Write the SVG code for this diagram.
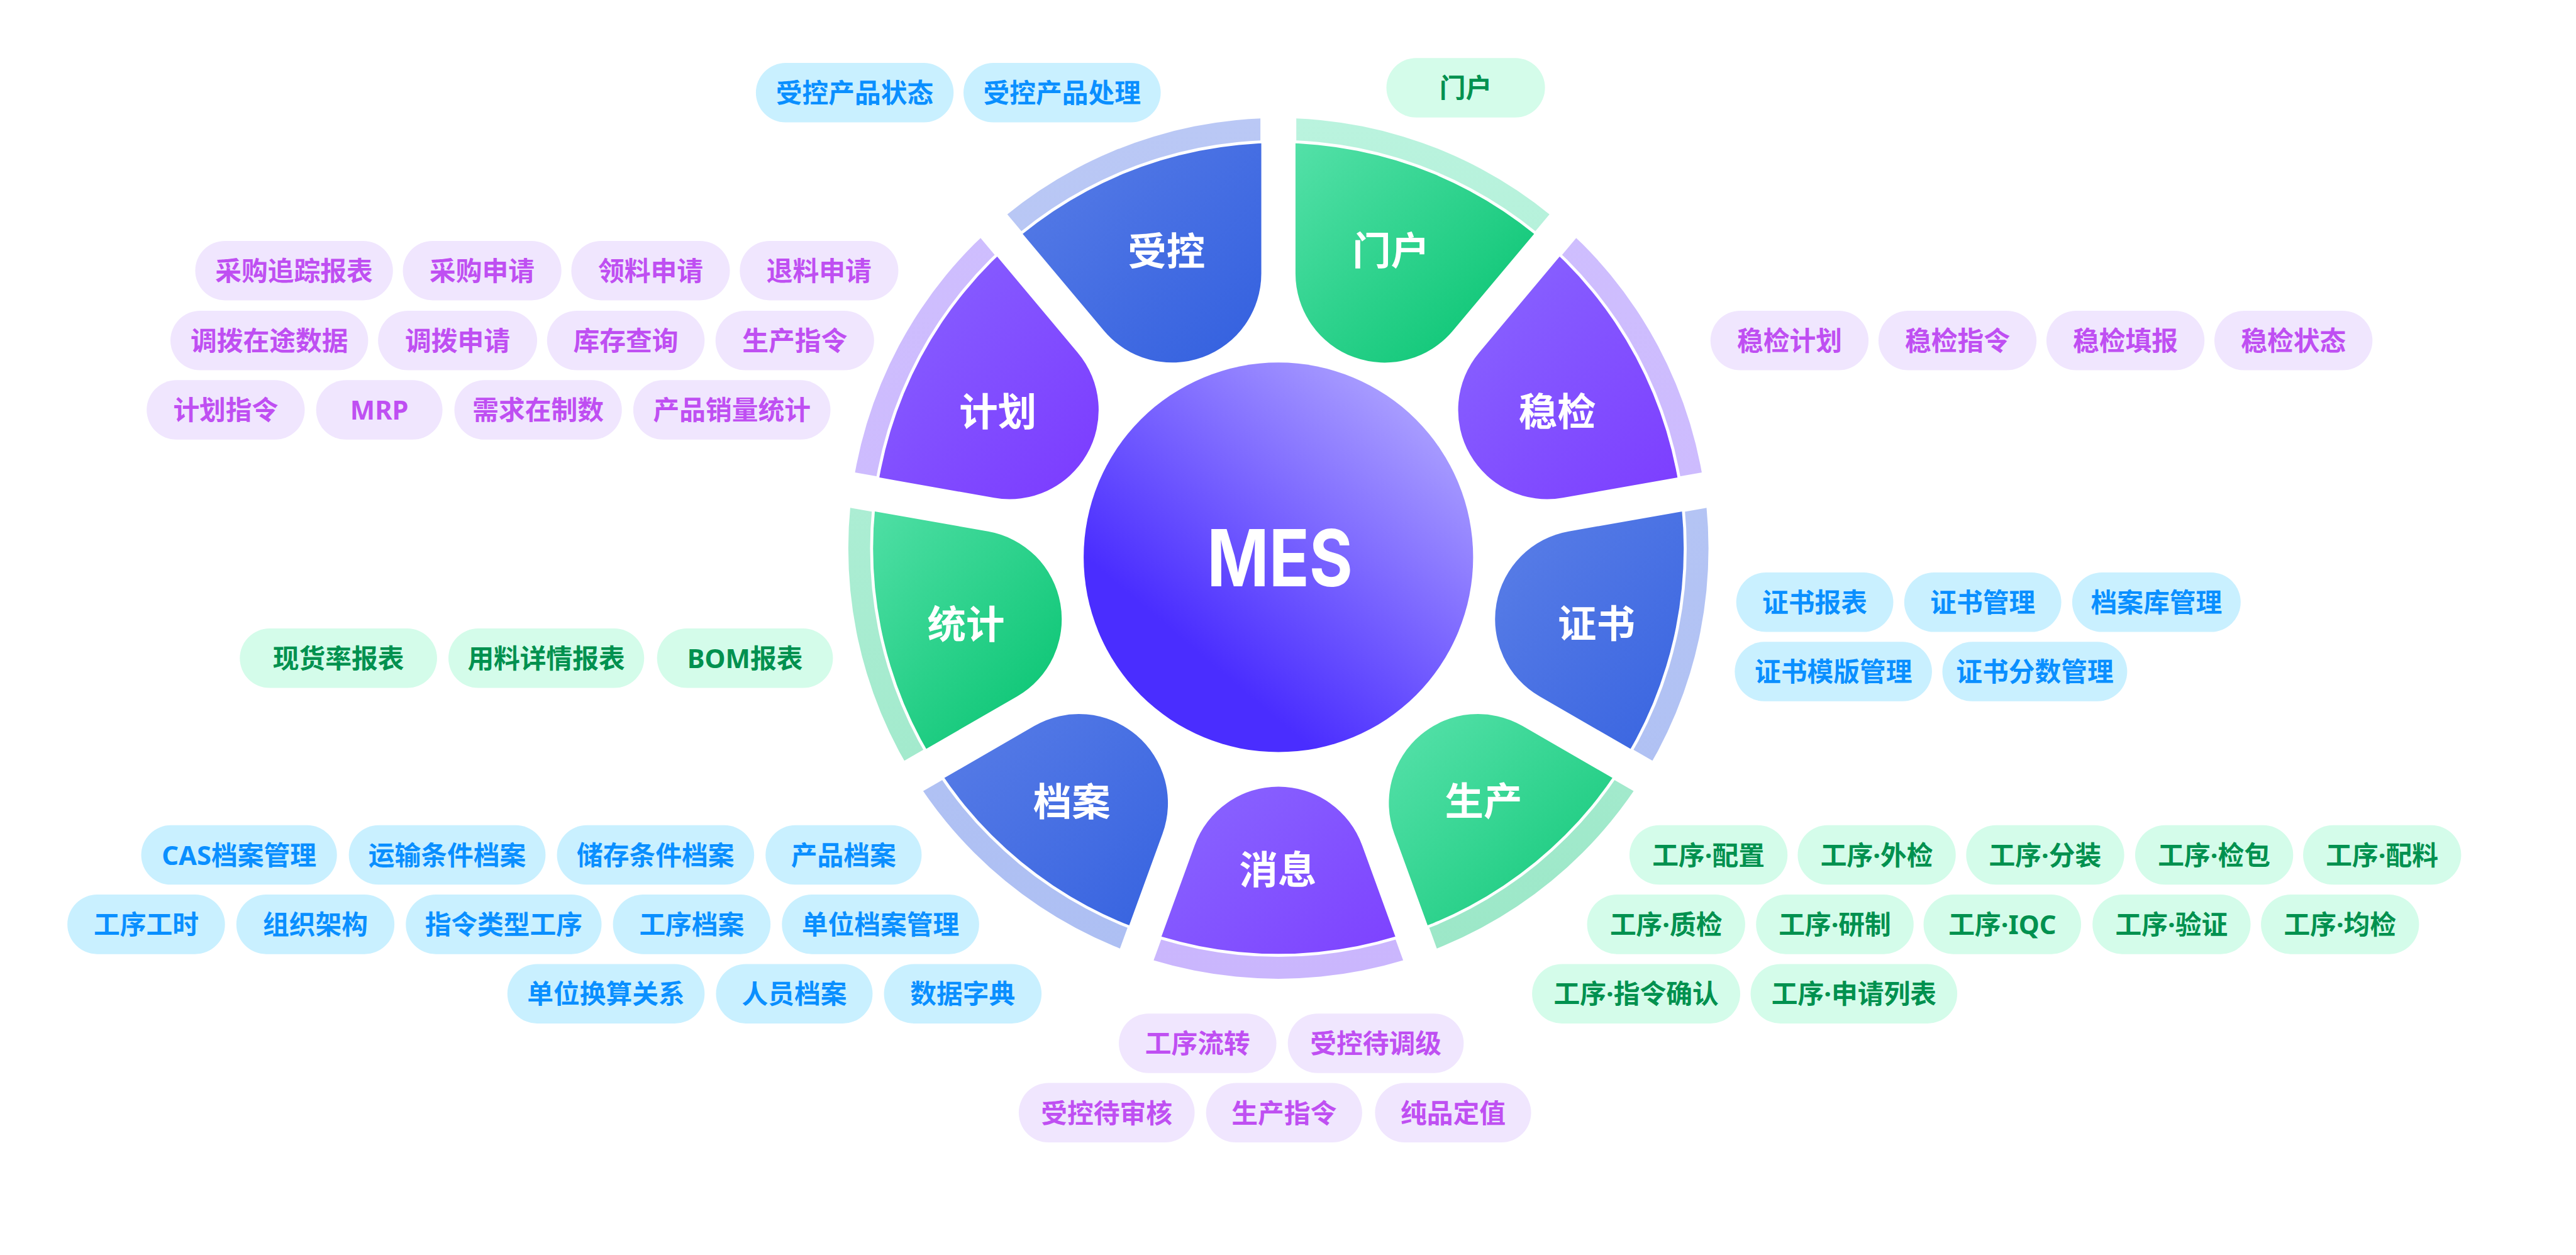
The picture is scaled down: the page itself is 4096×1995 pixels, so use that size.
<svg xmlns="http://www.w3.org/2000/svg" width="4096" height="1995" viewBox="0 0 4096 1995">
<defs>
<style>
.t{font-family:"Noto Sans","Noto Sans CJK SC",sans-serif;font-size:53px;font-weight:700;text-anchor:middle}
.lbl{font-family:"Noto Sans CJK SC",sans-serif;font-size:78px;font-weight:700;fill:#fff;text-anchor:middle}
.pb{fill:#C9F0FF}.tb{fill:#0A8FFF}
.pp{fill:#F0E6FE}.tp{fill:#BF4FF2}
.pg{fill:#D4FCEA}.tg{fill:#00914F}
</style>
<linearGradient id="gBlue" x1="0" y1="0" x2="1" y2="1"><stop offset="0" stop-color="#5B7FE7"/><stop offset="1" stop-color="#3360DF"/></linearGradient>
<linearGradient id="gGreen" x1="0" y1="0" x2="1" y2="1"><stop offset="0" stop-color="#58E2AB"/><stop offset="1" stop-color="#00C16C"/></linearGradient>
<linearGradient id="gPurple" x1="0" y1="0" x2="1" y2="1"><stop offset="0" stop-color="#8A68FF"/><stop offset="1" stop-color="#7B3AFF"/></linearGradient>
<linearGradient id="rBlue" x1="0" y1="0" x2="0" y2="1"><stop offset="0" stop-color="#BAC8F5"/><stop offset="1" stop-color="#ADBFF3"/></linearGradient>
<linearGradient id="rGreen" x1="0" y1="0" x2="0" y2="1"><stop offset="0" stop-color="#BAF3DE"/><stop offset="1" stop-color="#9BE7C7"/></linearGradient>
<linearGradient id="rPurple" x1="0" y1="0" x2="0" y2="1"><stop offset="0" stop-color="#CFBFFE"/><stop offset="1" stop-color="#CAB6FD"/></linearGradient>
<linearGradient id="gMes" x1="0.85" y1="0.1" x2="0.3" y2="0.75"><stop offset="0" stop-color="#ABA0FF"/><stop offset="0.5" stop-color="#7B66FF"/><stop offset="1" stop-color="#4A2DFF"/></linearGradient>
<clipPath id="cOuter"><circle cx="2580" cy="1106.5" r="818"/></clipPath>
<path id="ann" fill-rule="evenodd" d="M1712,1106.5a868,868 0 1,0 1736,0a868,868 0 1,0 -1736,0ZM1756,1106.5a824,824 0 1,0 1648,0a824,824 0 1,0 -1648,0Z"/>
<clipPath id="w1"><polygon points="2544,1041.6 1900.5,274.7 2544,40.5"/></clipPath>
<clipPath id="w2"><polygon points="2616,1041.6 2616,40.5 3259.5,274.7"/></clipPath>
<clipPath id="w3"><polygon points="2671.2,1087.9 3314.7,321 3657,914"/></clipPath>
<clipPath id="w4"><polygon points="2683.7,1158.8 3669.5,984.9 3550.6,1659.3"/></clipPath>
<clipPath id="w5"><polygon points="2647.7,1221.1 3514.6,1721.7 2990.1,2161.9"/></clipPath>
<clipPath id="w6"><polygon points="2580,1245.8 2922.4,2186.5 2237.6,2186.5"/></clipPath>
<clipPath id="w7"><polygon points="2512.3,1221.1 2170,2161.9 1645.4,1721.7"/></clipPath>
<clipPath id="w8"><polygon points="2476.3,1158.8 1609.4,1659.3 1490.5,984.9"/></clipPath>
<clipPath id="w9"><polygon points="2488.8,1087.9 1503,914 1845.4,321"/></clipPath>
</defs>
<rect width="4096" height="1995" fill="#fff"/>
<g transform="scale(0.78788)">
<g id="connectors"/>
<g id="petal-shoukong">
<use href="#ann" clip-path="url(#w1)" fill="url(#rBlue)"/>
<path clip-path="url(#cOuter)" fill="url(#gBlue)" d="M2027.9,428.9L2228,667.3A179.8,179.8 0 0 0 2545.5,551.7L2545.5,240.5A900.7,900.7 0 0 0 2027.9,428.9Z"/>
<text class="lbl" x="2354" y="535">受控</text>
</g>
<g id="petal-menhu">
<use href="#ann" clip-path="url(#w2)" fill="url(#rGreen)"/>
<path clip-path="url(#cOuter)" fill="url(#gGreen)" d="M2614.5,240.5L2614.5,551.7A179.8,179.8 0 0 0 2932.1,667.3L3132.1,428.9A900.7,900.7 0 0 0 2614.5,240.5Z"/>
<text class="lbl" x="2807" y="534">门户</text>
</g>
<g id="petal-wenjian">
<use href="#ann" clip-path="url(#w3)" fill="url(#rPurple)"/>
<path clip-path="url(#cOuter)" fill="url(#gPurple)" d="M3184.9,473.2L2984.9,711.6A179.8,179.8 0 0 0 3153.9,1004.3L3460.3,950.2A900.7,900.7 0 0 0 3184.9,473.2Z"/>
<text class="lbl" x="3143" y="859">稳检</text>
</g>
<g id="petal-zhengshu">
<use href="#ann" clip-path="url(#w4)" fill="url(#rBlue)"/>
<path clip-path="url(#cOuter)" fill="url(#gBlue)" d="M3472.3,1018.2L3165.9,1072.2A179.8,179.8 0 0 0 3107.2,1405L3376.7,1560.6A900.7,900.7 0 0 0 3472.3,1018.2Z"/>
<text class="lbl" x="3222" y="1287">证书</text>
</g>
<g id="petal-shengchan">
<use href="#ann" clip-path="url(#w5)" fill="url(#rGreen)"/>
<path clip-path="url(#cOuter)" fill="url(#gGreen)" d="M3342.2,1620.4L3072.7,1464.8A179.8,179.8 0 0 0 2813.8,1682L2920.2,1974.4A900.7,900.7 0 0 0 3342.2,1620.4Z"/>
<text class="lbl" x="2994" y="1645">生产</text>
</g>
<g id="petal-xiaoxi">
<use href="#ann" clip-path="url(#w6)" fill="url(#rPurple)"/>
<path clip-path="url(#cOuter)" fill="url(#gPurple)" d="M2855.4,1998L2749,1705.6A179.8,179.8 0 0 0 2411,1705.6L2304.6,1998A900.7,900.7 0 0 0 2855.4,1998Z"/>
<text class="lbl" x="2579" y="1783">消息</text>
</g>
<g id="petal-dangan">
<use href="#ann" clip-path="url(#w7)" fill="url(#rBlue)"/>
<path clip-path="url(#cOuter)" fill="url(#gBlue)" d="M2239.8,1974.4L2346.2,1682A179.8,179.8 0 0 0 2087.3,1464.8L1817.8,1620.4A900.7,900.7 0 0 0 2239.8,1974.4Z"/>
<text class="lbl" x="2163" y="1646">档案</text>
</g>
<g id="petal-tongji">
<use href="#ann" clip-path="url(#w8)" fill="url(#rGreen)"/>
<path clip-path="url(#cOuter)" fill="url(#gGreen)" d="M1783.3,1560.6L2052.8,1405A179.8,179.8 0 0 0 1994.2,1072.2L1687.7,1018.2A900.7,900.7 0 0 0 1783.3,1560.6Z"/>
<text class="lbl" x="1949.5" y="1288">统计</text>
</g>
<g id="petal-jihua">
<use href="#ann" clip-path="url(#w9)" fill="url(#rPurple)"/>
<path clip-path="url(#cOuter)" fill="url(#gPurple)" d="M1699.7,950.2L2006.1,1004.3A179.8,179.8 0 0 0 2175.1,711.6L1975.1,473.2A900.7,900.7 0 0 0 1699.7,950.2Z"/>
<text class="lbl" x="2014" y="859">计划</text>
</g>
<g id="center-mes">
<circle cx="2580" cy="1124.5" r="393" fill="url(#gMes)"/>
<text x="2583" y="1183" font-family="Inter,'Noto Sans',sans-serif" font-size="158" font-weight="700" fill="#fff" text-anchor="middle" textLength="294" lengthAdjust="spacingAndGlyphs">MES</text>
</g>
<g id="tags-shoukong">
<g id="tag-skcpzt"><rect class="pb" x="1525.5" y="127" width="399" height="120" rx="60"/><text class="t tb" x="1725" y="207">受控产品状态</text></g>
<g id="tag-skcpcl"><rect class="pb" x="1944.5" y="127" width="398" height="120" rx="60"/><text class="t tb" x="2143.5" y="207">受控产品处理</text></g>
</g>
<g id="tags-menhu">
<g id="tag-menhu"><rect class="pg" x="2798" y="117" width="320" height="120" rx="60"/><text class="t tg" x="2958" y="197">门户</text></g>
</g>
<g id="tags-jihua">
<g id="tag-cgzzbb"><rect class="pp" x="394" y="486" width="399" height="120" rx="60"/><text class="t tp" x="593.5" y="566">采购追踪报表</text></g>
<g id="tag-cgsq"><rect class="pp" x="813" y="486" width="320" height="120" rx="60"/><text class="t tp" x="973" y="566">采购申请</text></g>
<g id="tag-llsq"><rect class="pp" x="1153" y="486" width="320" height="120" rx="60"/><text class="t tp" x="1313" y="566">领料申请</text></g>
<g id="tag-tlsq"><rect class="pp" x="1493" y="486" width="320" height="120" rx="60"/><text class="t tp" x="1653" y="566">退料申请</text></g>
<g id="tag-dbztsj"><rect class="pp" x="344" y="627" width="399" height="120" rx="60"/><text class="t tp" x="543.5" y="707">调拨在途数据</text></g>
<g id="tag-dbsq"><rect class="pp" x="763" y="627" width="321" height="120" rx="60"/><text class="t tp" x="923.5" y="707">调拨申请</text></g>
<g id="tag-kccx"><rect class="pp" x="1104" y="627" width="318" height="120" rx="60"/><text class="t tp" x="1263" y="707">库存查询</text></g>
<g id="tag-sczl1"><rect class="pp" x="1444" y="627" width="320" height="120" rx="60"/><text class="t tp" x="1604" y="707">生产指令</text></g>
<g id="tag-jhzl"><rect class="pp" x="296" y="767" width="319" height="120" rx="60"/><text class="t tp" x="455.5" y="847">计划指令</text></g>
<g id="tag-mrp"><rect class="pp" x="638" y="767" width="255" height="120" rx="60"/><text class="t tp" x="765.5" y="847">MRP</text></g>
<g id="tag-xqzzs"><rect class="pp" x="917" y="767" width="338" height="120" rx="60"/><text class="t tp" x="1086" y="847">需求在制数</text></g>
<g id="tag-cpxltj"><rect class="pp" x="1278" y="767" width="398" height="120" rx="60"/><text class="t tp" x="1477" y="847">产品销量统计</text></g>
</g>
<g id="tags-wenjian">
<g id="tag-wjjh"><rect class="pp" x="3452" y="627" width="319" height="120" rx="60"/><text class="t tp" x="3611.5" y="707">稳检计划</text></g>
<g id="tag-wjzl"><rect class="pp" x="3791" y="627" width="319" height="120" rx="60"/><text class="t tp" x="3950.5" y="707">稳检指令</text></g>
<g id="tag-wjtb"><rect class="pp" x="4130" y="627" width="319" height="120" rx="60"/><text class="t tp" x="4289.5" y="707">稳检填报</text></g>
<g id="tag-wjzt"><rect class="pp" x="4469" y="627" width="319" height="120" rx="60"/><text class="t tp" x="4628.5" y="707">稳检状态</text></g>
</g>
<g id="tags-zhengshu">
<g id="tag-zsbb"><rect class="pb" x="3504" y="1155" width="317" height="120" rx="60"/><text class="t tb" x="3662.5" y="1235">证书报表</text></g>
<g id="tag-zsgl"><rect class="pb" x="3843" y="1155" width="317" height="120" rx="60"/><text class="t tb" x="4001.5" y="1235">证书管理</text></g>
<g id="tag-dakgl"><rect class="pb" x="4182" y="1155" width="340" height="120" rx="60"/><text class="t tb" x="4352" y="1235">档案库管理</text></g>
<g id="tag-zsmbgl"><rect class="pb" x="3501" y="1295" width="398" height="120" rx="60"/><text class="t tb" x="3700" y="1375">证书模版管理</text></g>
<g id="tag-zsfsgl"><rect class="pb" x="3920" y="1295" width="373" height="120" rx="60"/><text class="t tb" x="4106.5" y="1375">证书分数管理</text></g>
</g>
<g id="tags-tongji">
<g id="tag-xhlbb"><rect class="pg" x="484" y="1268" width="398" height="120" rx="60"/><text class="t tg" x="683" y="1348">现货率报表</text></g>
<g id="tag-ylxqbb"><rect class="pg" x="905" y="1268" width="395" height="120" rx="60"/><text class="t tg" x="1102.5" y="1348">用料详情报表</text></g>
<g id="tag-bombb"><rect class="pg" x="1326" y="1268" width="355" height="120" rx="60"/><text class="t tg" x="1503.5" y="1348">BOM报表</text></g>
</g>
<g id="tags-dangan">
<g id="tag-casdagl"><rect class="pb" x="285" y="1665" width="395" height="120" rx="60"/><text class="t tb" x="482.5" y="1745">CAS档案管理</text></g>
<g id="tag-ystjda"><rect class="pb" x="704" y="1665" width="397" height="120" rx="60"/><text class="t tb" x="902.5" y="1745">运输条件档案</text></g>
<g id="tag-cctjda"><rect class="pb" x="1124" y="1665" width="398" height="120" rx="60"/><text class="t tb" x="1323" y="1745">储存条件档案</text></g>
<g id="tag-cpda"><rect class="pb" x="1545" y="1665" width="315" height="120" rx="60"/><text class="t tb" x="1702.5" y="1745">产品档案</text></g>
<g id="tag-gxgs"><rect class="pb" x="136" y="1805" width="318" height="120" rx="60"/><text class="t tb" x="295" y="1885">工序工时</text></g>
<g id="tag-zzjg"><rect class="pb" x="477" y="1805" width="319" height="120" rx="60"/><text class="t tb" x="636.5" y="1885">组织架构</text></g>
<g id="tag-zllxgx"><rect class="pb" x="819" y="1805" width="395" height="120" rx="60"/><text class="t tb" x="1016.5" y="1885">指令类型工序</text></g>
<g id="tag-gxda"><rect class="pb" x="1237" y="1805" width="318" height="120" rx="60"/><text class="t tb" x="1396" y="1885">工序档案</text></g>
<g id="tag-dwdagl"><rect class="pb" x="1578" y="1805" width="398" height="120" rx="60"/><text class="t tb" x="1777" y="1885">单位档案管理</text></g>
<g id="tag-dwhsgx"><rect class="pb" x="1024" y="1945" width="398" height="120" rx="60"/><text class="t tb" x="1223" y="2025">单位换算关系</text></g>
<g id="tag-ryda"><rect class="pb" x="1445" y="1945" width="316" height="120" rx="60"/><text class="t tb" x="1603" y="2025">人员档案</text></g>
<g id="tag-sjzd"><rect class="pb" x="1784" y="1945" width="318" height="120" rx="60"/><text class="t tb" x="1943" y="2025">数据字典</text></g>
</g>
<g id="tags-xiaoxi">
<g id="tag-gxlz"><rect class="pp" x="2258" y="2045" width="318" height="120" rx="60"/><text class="t tp" x="2417" y="2125">工序流转</text></g>
<g id="tag-skdtj"><rect class="pp" x="2599" y="2045" width="355" height="120" rx="60"/><text class="t tp" x="2776.5" y="2125">受控待调级</text></g>
<g id="tag-skdsh"><rect class="pp" x="2056" y="2185" width="355" height="120" rx="60"/><text class="t tp" x="2233.5" y="2265">受控待审核</text></g>
<g id="tag-sczl2"><rect class="pp" x="2434" y="2185" width="315" height="120" rx="60"/><text class="t tp" x="2591.5" y="2265">生产指令</text></g>
<g id="tag-cpdz"><rect class="pp" x="2775" y="2185" width="315" height="120" rx="60"/><text class="t tp" x="2932.5" y="2265">纯品定值</text></g>
</g>
<g id="tags-shengchan">
<g id="tag-gx-pz"><rect class="pg" x="3288.5" y="1665" width="319" height="120" rx="60"/><text class="t tg" x="3448" y="1745">工序·配置</text></g>
<g id="tag-gx-wj"><rect class="pg" x="3628" y="1665" width="319" height="120" rx="60"/><text class="t tg" x="3787.5" y="1745">工序·外检</text></g>
<g id="tag-gx-fz"><rect class="pg" x="3968" y="1665" width="319" height="120" rx="60"/><text class="t tg" x="4127.5" y="1745">工序·分装</text></g>
<g id="tag-gx-jb"><rect class="pg" x="4309" y="1665" width="319" height="120" rx="60"/><text class="t tg" x="4468.5" y="1745">工序·检包</text></g>
<g id="tag-gx-pl"><rect class="pg" x="4648" y="1665" width="319" height="120" rx="60"/><text class="t tg" x="4807.5" y="1745">工序·配料</text></g>
<g id="tag-gx-zj"><rect class="pg" x="3203" y="1805" width="319" height="120" rx="60"/><text class="t tg" x="3362.5" y="1885">工序·质检</text></g>
<g id="tag-gx-yz"><rect class="pg" x="3544" y="1805" width="318" height="120" rx="60"/><text class="t tg" x="3703" y="1885">工序·研制</text></g>
<g id="tag-gx-iqc"><rect class="pg" x="3882" y="1805" width="318" height="120" rx="60"/><text class="t tg" x="4041" y="1885">工序·IQC</text></g>
<g id="tag-gx-yzh"><rect class="pg" x="4223" y="1805" width="319" height="120" rx="60"/><text class="t tg" x="4382.5" y="1885">工序·验证</text></g>
<g id="tag-gx-jj"><rect class="pg" x="4563" y="1805" width="319" height="120" rx="60"/><text class="t tg" x="4722.5" y="1885">工序·均检</text></g>
<g id="tag-gx-zlqr"><rect class="pg" x="3092" y="1945" width="420" height="120" rx="60"/><text class="t tg" x="3302" y="2025">工序·指令确认</text></g>
<g id="tag-gx-sqlb"><rect class="pg" x="3533" y="1945" width="417" height="120" rx="60"/><text class="t tg" x="3741.5" y="2025">工序·申请列表</text></g>
</g>
</g>
</svg>
